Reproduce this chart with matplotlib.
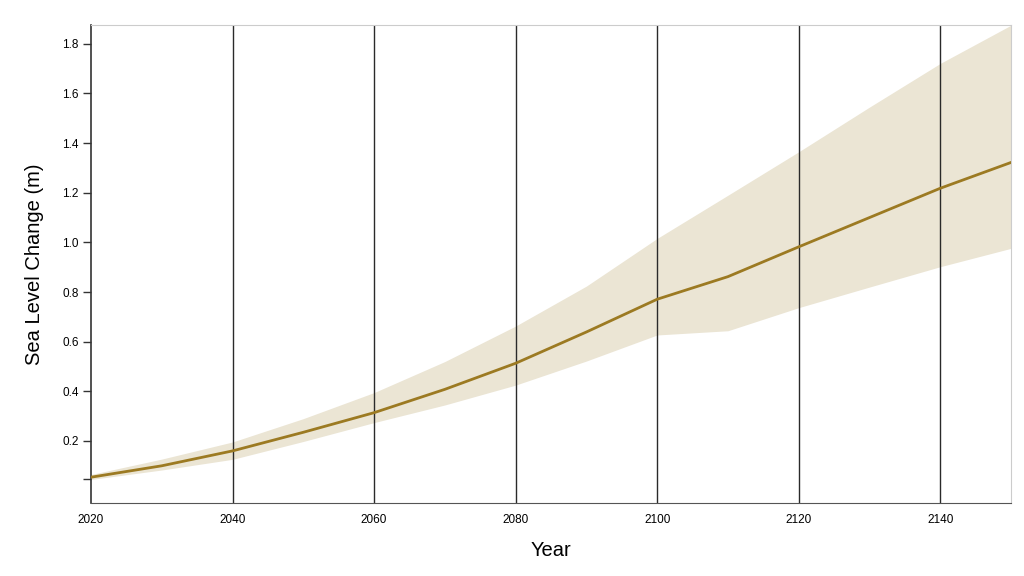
import numpy as np
import matplotlib.pyplot as plt

years = [2020, 2030, 2040, 2050, 2060, 2070, 2080, 2090, 2100, 2110, 2120, 2130, 2140, 2150]
median = [0.054, 0.100, 0.160, 0.235, 0.314, 0.408, 0.513, 0.639, 0.771, 0.862, 0.982, 1.100, 1.218, 1.322]
upper = [0.065, 0.127, 0.196, 0.290, 0.395, 0.520, 0.663, 0.824, 1.016, 1.190, 1.365, 1.545, 1.721, 1.875]
lower = [0.045, 0.083, 0.126, 0.198, 0.274, 0.345, 0.425, 0.522, 0.627, 0.644, 0.737, 0.820, 0.902, 0.976]

xticks = [2020, 2040, 2060, 2080, 2100, 2120, 2140]
yticks = [0.045, 0.2, 0.4, 0.6, 0.8, 1.0, 1.2, 1.4, 1.6, 1.8]
ylabels = ['', '0.2', '0.4', '0.6', '0.8', '1.0', '1.2', '1.4', '1.6', '1.8']

plt.rcParams['font.family'] = ['Liberation Sans', 'DejaVu Sans']

fig = plt.figure(figsize=(10.24, 5.76), dpi=100)
ax = fig.add_axes([0.0889, 0.1267, 0.8984, 0.8304])

ax.fill_between(years, lower, upper, color='#ebe5d4', linewidth=0, zorder=1)
ax.plot(years, median, color='#9c7a22', linewidth=2, zorder=3)

ax.set_xlim(2020, 2150)
ax.set_ylim(-0.05, 1.877)

ax.set_xticks(xticks)
ax.set_xticklabels([str(x) for x in xticks], fontsize=8.5)
ax.set_yticks(yticks)
ax.set_yticklabels(ylabels, fontsize=8.5)
ax.tick_params(axis='x', length=0, pad=8)
ax.tick_params(axis='y', length=6, width=1, color='#333333', pad=3)

for x in xticks[1:]:
    ax.axvline(x, color='#2a2a2a', linewidth=1.0, zorder=2)

ax.spines['left'].set_color('#333333')
ax.spines['left'].set_linewidth(1.2)
ax.spines['bottom'].set_color('#555555')
ax.spines['bottom'].set_linewidth(0.8)
ax.spines['top'].set_color('#cccccc')
ax.spines['right'].set_color('#cccccc')

ax.set_xlabel('Year', fontsize=14.5, labelpad=11)
ax.set_ylabel('Sea Level Change (m)', fontsize=14.5, labelpad=13)

fig.savefig('out.png', dpi=100)
